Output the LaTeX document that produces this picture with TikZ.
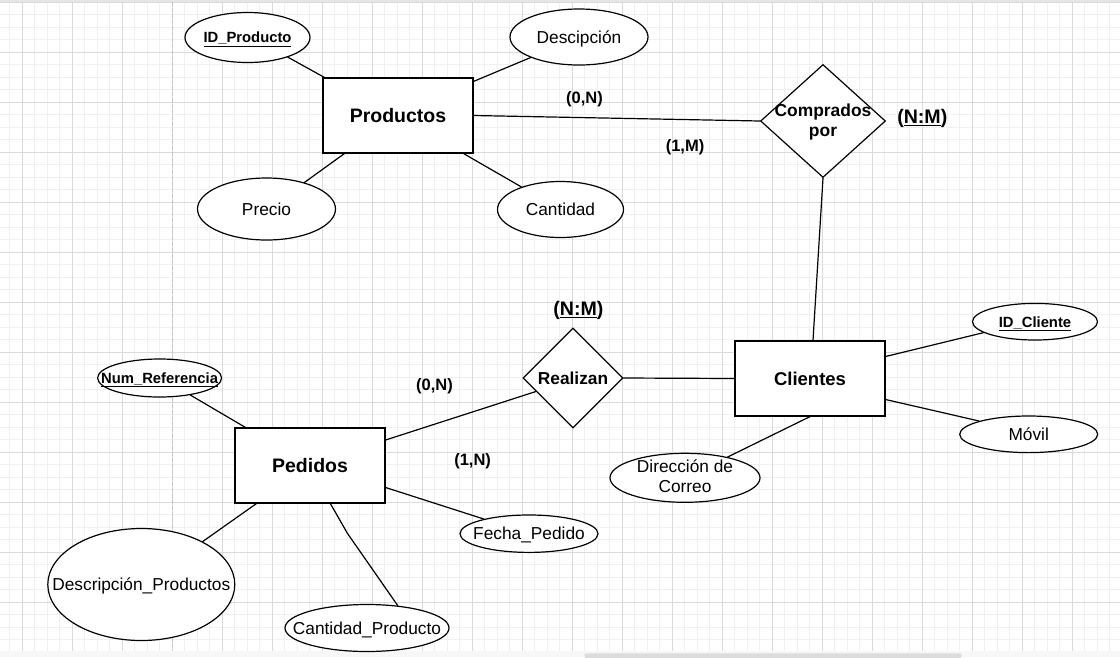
\documentclass[tikz,border=0pt]{standalone}
\usepackage{fontspec}
\setmainfont{Liberation Sans}
\usetikzlibrary{shapes.geometric,calc}
\definecolor{gridminor}{HTML}{F0F0F0}
\definecolor{gridmajor}{HTML}{DADADA}
\definecolor{dashcol}{HTML}{C4C4C4}
\definecolor{barcol}{HTML}{DCDCDC}
\definecolor{stripcol}{HTML}{F7F7F7}
\tikzset{
  ent/.style={draw, line width=1.2pt, fill=white, minimum width=150, minimum height=75, inner sep=0,
    font=\fontsize{19.5}{22}\selectfont\bfseries, text height=14pt, text depth=0pt},
  attr/.style={ellipse, draw, line width=1.2pt, fill=white, inner sep=0},
  rel/.style={diamond, draw, line width=1.2pt, fill=white, inner sep=0},
  atxt/.style={font=\fontsize{17.3}{20}\selectfont, inner sep=0, text height=12.4pt, text depth=0pt},
  atxttwo/.style={font=\fontsize{17.3}{20}\selectfont, inner sep=0, align=center},
  ktxt/.style={font=\fontsize{14.8}{17}\selectfont\bfseries, inner sep=0, text height=10.6pt, text depth=0pt},
  rtxt/.style={font=\fontsize{17.3}{20}\selectfont\bfseries, inner sep=0, text height=12.4pt, text depth=0pt},
  rtxttwo/.style={font=\fontsize{17.4}{20}\selectfont\bfseries, inner sep=0, align=center},
  card/.style={font=\fontsize{16.5}{19}\selectfont\bfseries, inner sep=0, text height=11.8pt, text depth=0pt},
  nm/.style={font=\fontsize{19.6}{22}\selectfont\bfseries, inner sep=0, text height=14pt, text depth=0pt},
  conn/.style={draw, line width=1.2pt, line cap=round},
}
\begin{document}
\begin{tikzpicture}[x=1pt,y=-1pt]
\useasboundingbox (0,0) rectangle (1120,657);
% background
\fill[white] (0,0) rectangle (1120,657);
\foreach \i in {0,...,88} { \draw[gridminor, line width=1pt] ({9.8+12.5*\i},2) -- ({9.8+12.5*\i},651); }
\foreach \k in {0,...,51} { \draw[gridminor, line width=1pt] (0,{2+12.5*\k}) -- (1120,{2+12.5*\k}); }
\foreach \i in {0,...,21} { \draw[gridmajor, line width=1pt] ({22.3+50*\i},2) -- ({22.3+50*\i},651); }
\foreach \k in {0,...,12} { \draw[gridmajor, line width=1pt] (0,{2+50*\k}) -- (1120,{2+50*\k}); }
\fill[gridmajor!70] (0,0) rectangle (1120,1.5);
\fill[stripcol] (0,651) rectangle (1120,657);
\fill[barcol, rounded corners=1.5pt] (584.3,653.3) rectangle (961.7,658);
\draw[dashcol, line width=1.2pt, dash pattern=on 4pt off 2pt] (172.5,2) -- (172.5,651);

% entities
\node[ent] (prod) at (398,115.5) {Productos};
\node[ent, font=\fontsize{18.5}{21}\selectfont\bfseries] (cli) at (810,378.5) {Clientes};
\node[ent] (ped) at (310,465.5) {Pedidos};

% relationships
\node[rel, minimum width=125, minimum height=113] (comp) at (823,121) {};
\node[rtxttwo] (comp-t) at (823,122.2) {Comprados\\por};
\node[rel, minimum width=100, minimum height=100] (real) at (573,378) {};
\node[rtxt] (real-t) at (real) {Realizan};

% attributes of Productos
\node[attr, minimum width=125, minimum height=50] (idp) at (247.5,37.5) {};
\node[ktxt] (idp-t) at (idp) {\underline{ID\_Producto}};
\node[attr, minimum width=138, minimum height=56] (desc) at (579,37) {};
\node[atxt] (desc-t) at (desc) {Descipción};
\node[attr, minimum width=138, minimum height=62] (precio) at (266.5,209) {};
\node[atxt] (precio-t) at (precio) {Precio};
\node[attr, minimum width=126, minimum height=56] (cant) at (560.5,209.5) {};
\node[atxt] (cant-t) at (cant) {Cantidad};

% attributes of Clientes
\node[attr, minimum width=125, minimum height=36.6] (idc) at (1035,321.7) {};
\node[ktxt] (idc-t) at (idc) {\underline{ID\_Cliente}};
\node[attr, minimum width=138, minimum height=36.6] (movil) at (1028.7,434.3) {};
\node[atxt] (movil-t) at (movil) {Móvil};
\node[attr, minimum width=150, minimum height=49] (dir) at (685,477.8) {};
\node[atxttwo] (dir-t) at (685,476.7) {Dirección de\\Correo};

% attributes of Pedidos
\node[attr, minimum width=124, minimum height=38] (num) at (159.6,378) {};
\node[ktxt] (num-t) at (num) {\underline{Num\_Referencia}};
\node[attr, minimum width=187, minimum height=112] (dp) at (141.3,584.5) {};
\node[atxt] (dp-t) at (dp) {Descripción\_Productos};
\node[attr, minimum width=164, minimum height=47] (cp) at (367,628) {};
\node[atxt] (cp-t) at (cp) {Cantidad\_Producto};
\node[attr, minimum width=138, minimum height=37.4] (fecha) at (529,533.7) {};
\node[atxt] (fecha-t) at (fecha) {Fecha\_Pedido};

% connectors
\draw[conn] ([shift={(2,0)}]prod.north west) -- (idp.-26);
\draw[conn] ([shift={(0,4)}]prod.north east) -- (desc.203);
\draw[conn] ([shift={(22,0)}]prod.south west) -- (precio.35);
\draw[conn] ([shift={(-10,0)}]prod.south east) -- (cant.150);
\draw[conn] (prod.east) -- (comp.west);
\draw[conn] (comp.south) -- ([shift={(3,0)}]cli.north);
\draw[conn] (real.east) -- (cli.west);
\draw[conn] ([shift={(0,-22)}]cli.east) -- (idc.192);
\draw[conn] ([shift={(0,21)}]cli.east) -- (movil.165);
\draw[conn] (cli.south) -- (dir.26.5);
\draw[conn] ([shift={(0,-25.5)}]ped.east) -- (real.200);
\draw[conn] ([shift={(11,0)}]ped.north west) -- (num.-29);
\draw[conn] ([shift={(22,0)}]ped.south west) -- (dp.35);
\coordinate (cpbend) at (347.4,533.3);
\draw[conn] ([shift={(96,0)}]ped.south west) -- (cpbend) -- (cp.36);
\draw[conn] ([shift={(0,22)}]ped.east) -- (fecha.162);

% cardinalities
\node[card] (c1) at (584.5,97.5) {(0,N)};
\node[card] (c2) at (685,146) {(1,M)};
\node[nm] (nm1) at (922.3,116.7) {(\underline{N:M})};
\node[nm] (nm2) at (578.4,308.8) {(\underline{N:M})};
\node[card] (c3) at (434.5,384.5) {(0,N)};
\node[card] (c4) at (472.6,459.5) {(1,N)};
\end{tikzpicture}
\end{document}
